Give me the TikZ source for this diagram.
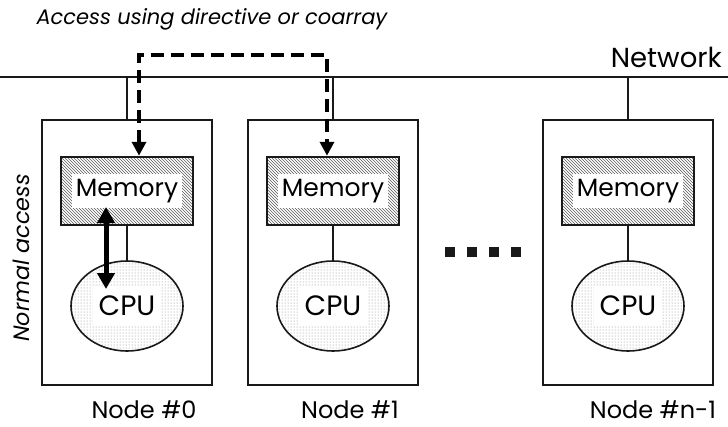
\documentclass[tikz,border=0pt]{standalone}
\usepackage{fontspec}
\setmainfont{Poppins}
\usetikzlibrary{patterns,arrows.meta,shapes.geometric}
\begin{document}
\begin{tikzpicture}[x=1pt,y=-1pt,
  nodebox/.style={draw=black!90,line width=1.7pt,minimum width=170pt,minimum height=265pt,inner sep=0pt},
  membox/.style={draw=black!90,line width=2.5pt,minimum width=132pt,minimum height=68pt,inner sep=0pt,
     pattern=north west lines,pattern color=black!65},
  cpubox/.style={ellipse,draw=black!90,line width=1.6pt,minimum width=112pt,minimum height=90pt,inner sep=0pt,
     pattern=dots,pattern color=black!50},
  memtxt/.style={fill=white,inner xsep=4pt,inner ysep=2pt,minimum height=34pt,font=\fontsize{25}{28}\selectfont},
  cputxt/.style={fill=white,inner xsep=6pt,minimum height=40pt,font=\fontsize{28}{30}\selectfont},
  link/.style={line width=1.1pt,black!90},
  lbl/.style={font=\fontsize{24}{28}\selectfont},
  ital/.style={font=\itshape\fontsize{21}{25}\selectfont},
  dasharrow/.style={line width=4.5pt,dash pattern=on 13pt off 7pt,
     {Triangle[length=14pt,width=14pt]}-{Triangle[length=14pt,width=14pt]}}
]
\useasboundingbox (0,0) rectangle (728,426);
% network
\coordinate (netL) at (0,77);
\coordinate (netR) at (728,77);
\draw[link] (netL) -- (netR);
\node[font=\fontsize{27.5}{30}\selectfont,anchor=south east,inner sep=0pt] (net) at (722,68) {Network};

% nodes
\foreach \n/\cx/\lx/\lab in {0/127/144/Node \#0, 1/333/350/Node \#1, 2/628/653/Node \#n-1}{
  \node[nodebox] (box\n) at (\cx,252.5) {};
  \node[membox] (mem\n) at (\cx,191) {};
  \node[memtxt] at (mem\n) {Memory};
  \node[cpubox] (cpu\n) at (\cx,306) {};
  \node[cputxt] at (cpu\n) {CPU};
  \coordinate (tap\n) at (\cx,77);
  \draw[link] (tap\n) -- (box\n.north);
  \draw[link] (mem\n.south) -- (cpu\n.north);
  \node[lbl] (lab\n) at (\lx,410) {\lab};
}

% dots
\foreach \i in {0,1,2,3}{
  \node[fill=black!90,minimum size=10pt,inner sep=0pt] (dot\i) at (450+22*\i,252) {};
}

% dashed access arrow
\coordinate (dA) at (139,55);
\coordinate (dB) at (327,55);
\draw[dasharrow] (dA |- mem0.north) -- (dA) -- (dB) -- (dB |- mem1.north);

% normal access double arrow
\coordinate (nA) at (106,207);
\coordinate (nB) at (106,289);
\draw[line width=5pt,{Triangle[length=16pt,width=17pt]}-{Triangle[length=16pt,width=17pt]}] (nA) -- (nB);

% side labels
\node[ital,rotate=90] (normal) at (21,258) {\scalebox{1.06}{Normal access}};
\node[ital,anchor=west] (access) at (33,19) {Access using directive or coarray};
\end{tikzpicture}
\end{document}
